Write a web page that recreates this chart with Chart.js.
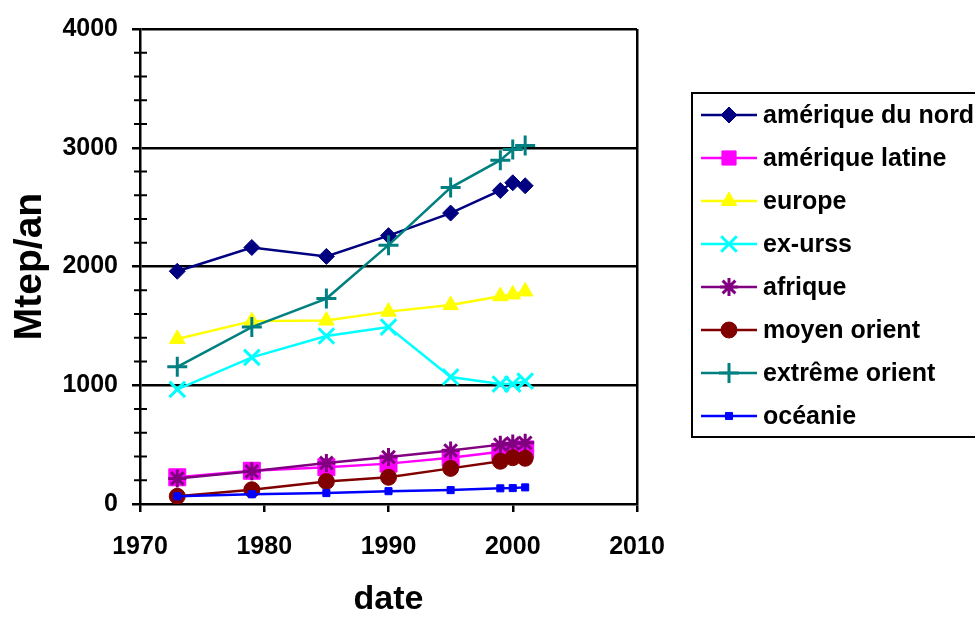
<!DOCTYPE html>
<html>
<head>
<meta charset="utf-8">
<script src="https://cdn.jsdelivr.net/npm/chart.js"></script>
<style>
  html, body { margin: 0; padding: 0; background: #fff; }
  #wrap { width: 975px; height: 617px; position: relative; }
</style>
</head>
<body>
<div id="wrap"><canvas id="chart"></canvas></div>
<script>
const years = [1973, 1979, 1985, 1990, 1995, 1999, 2000, 2001];

const ameriqueNord = [1960, 2160, 2085, 2260, 2450, 2640, 2705, 2680];
const ameriqueLatine = [225, 280, 310, 340, 390, 440, 450, 460];
const europe = [1390, 1540, 1545, 1620, 1675, 1750, 1765, 1790];
const exUrss = [965, 1235, 1415, 1490, 1070, 1010, 1010, 1035];
const afrique = [215, 275, 345, 395, 450, 500, 510, 515];
const moyenOrient = [65, 120, 190, 225, 300, 360, 390, 385];
const extremeOrient = [1155, 1490, 1730, 2180, 2665, 2895, 2985, 3020];
const oceanie = [65, 82, 92, 108, 117, 132, 134, 140];

const seriesNames = ["amérique du nord", "amérique latine", "europe", "ex-urss",
  "afrique", "moyen orient", "extrême orient", "océanie"];
const seriesValues = [ameriqueNord, ameriqueLatine, europe, exUrss,
  afrique, moyenOrient, extremeOrient, oceanie];

const xTicks = [1970, 1980, 1990, 2000, 2010];
const yTicks = [0, 1000, 2000, 3000, 4000];

const styles = [
  {color: "#000080", point: "rectRot", r: 8},
  {color: "#FF00FF", point: "rect", r: 12},
  {color: "#FFFF00", point: "triangle", r: 9},
  {color: "#00FFFF", point: "crossRot", r: 11},
  {color: "#800080", point: "star", r: 9},
  {color: "#800000", point: "circle", r: 8},
  {color: "#008080", point: "cross", r: 10},
  {color: "#0000FF", point: "rect", r: 5},
];

const FONT = "'Liberation Sans', Arial, sans-serif";

const datasets = seriesNames.map((name, i) => ({
  label: name,
  data: years.map((y, j) => ({x: y, y: seriesValues[i][j]})),
  borderColor: styles[i].color,
  backgroundColor: styles[i].color,
  borderWidth: 2.5,
  pointStyle: styles[i].point,
  pointRadius: styles[i].r,
  pointBorderWidth: ["crossRot", "star", "cross"].includes(styles[i].point) ? 3 : 1,
  pointBackgroundColor: styles[i].color,
  pointBorderColor: styles[i].color,
  order: seriesNames.length - i,
}));

// minor ticks on the y axis, and the legend box on the right
const extras = {
  id: "extras",
  afterDraw(chart) {
    const ctx = chart.ctx;
    const ys = chart.scales.y;
    const x0 = ys.right;
    ctx.save();
    ctx.strokeStyle = "#000";
    ctx.lineWidth = 2;
    for (let v = 200; v < 4000; v += 200) {
      if (v % 1000 === 0) continue;
      const py = ys.getPixelForValue(v);
      ctx.beginPath();
      ctx.moveTo(x0 - 6, py);
      ctx.lineTo(x0 + 7, py);
      ctx.stroke();
    }

    // legend
    ctx.lineWidth = 2;
    ctx.strokeStyle = "#000";
    ctx.strokeRect(692, 93, 320, 344);
    ctx.font = "bold 25px " + FONT;
    ctx.textBaseline = "middle";
    ctx.textAlign = "left";
    chart.data.datasets.forEach((ds, i) => {
      const y = 115 + 43 * i;
      ctx.strokeStyle = ds.borderColor;
      ctx.lineWidth = 2.5;
      ctx.beginPath();
      ctx.moveTo(701, y);
      ctx.lineTo(757, y);
      ctx.stroke();
      ctx.fillStyle = ds.backgroundColor;
      ctx.lineWidth = ds.pointBorderWidth;
      Chart.helpers.drawPoint(ctx, {
        pointStyle: ds.pointStyle,
        radius: ds.pointStyle === "rect" && ds.pointRadius > 6 ? 10 : ds.pointRadius,
        borderWidth: ds.pointBorderWidth,
        rotation: 0,
      }, 729, y);
      ctx.fillStyle = "#000";
      ctx.fillText(ds.label, 763, y + 1);
    });
    ctx.restore();
  }
};

new Chart(document.getElementById("chart"), {
  type: "line",
  data: {datasets: datasets},
  options: {
    responsive: true,
    maintainAspectRatio: false,
    animation: false,
    layout: {padding: {top: 26, right: 338, left: 0, bottom: 0}},
    plugins: {
      legend: {display: false},
      tooltip: {enabled: false},
    },
    scales: {
      x: {
        type: "linear",
        min: 1970,
        max: 2010,
        afterBuildTicks: (s) => { s.ticks = xTicks.map(v => ({value: v})); },
        afterFit: (s) => { s.height = 113; },
        grid: {
          color: (c) => (c.tick && c.tick.value === 2010) ? "#000" : "rgba(0,0,0,0)",
          tickColor: "#000",
          tickLength: 8,
          lineWidth: 2.5,
          tickWidth: 2.5,
        },
        border: {color: "#000", width: 2.5},
        ticks: {
          color: "#000",
          font: {family: FONT, size: 25, weight: "bold"},
          padding: 20,
          maxRotation: 0,
          callback: (v) => String(v),
        },
        title: {
          display: true,
          text: "date",
          color: "#000",
          font: {family: FONT, size: 34, weight: "bold", lineHeight: 1},
          padding: {top: 0, bottom: 0},
        },
      },
      y: {
        min: 0,
        max: 4000,
        afterBuildTicks: (s) => { s.ticks = yTicks.map(v => ({value: v})); },
        afterFit: (s) => { s.width = 140; },
        grid: {
          color: (c) => (c.tick && c.tick.value > 0) ? "#000" : "rgba(0,0,0,0)",
          tickColor: "#000",
          tickLength: 8,
          lineWidth: 2.5,
          tickWidth: 2.5,
        },
        border: {color: "#000", width: 2.5},
        ticks: {
          color: "#000",
          font: {family: FONT, size: 25, weight: "bold"},
          padding: 14,
          callback: (v) => String(v),
        },
        title: {
          display: true,
          text: "Mtep/an",
          color: "#000",
          font: {family: FONT, size: 39, weight: "bold", lineHeight: 1},
          padding: {top: 11, bottom: 0},
        },
      },
    },
  },
  plugins: [extras],
});
</script>
</body>
</html>
